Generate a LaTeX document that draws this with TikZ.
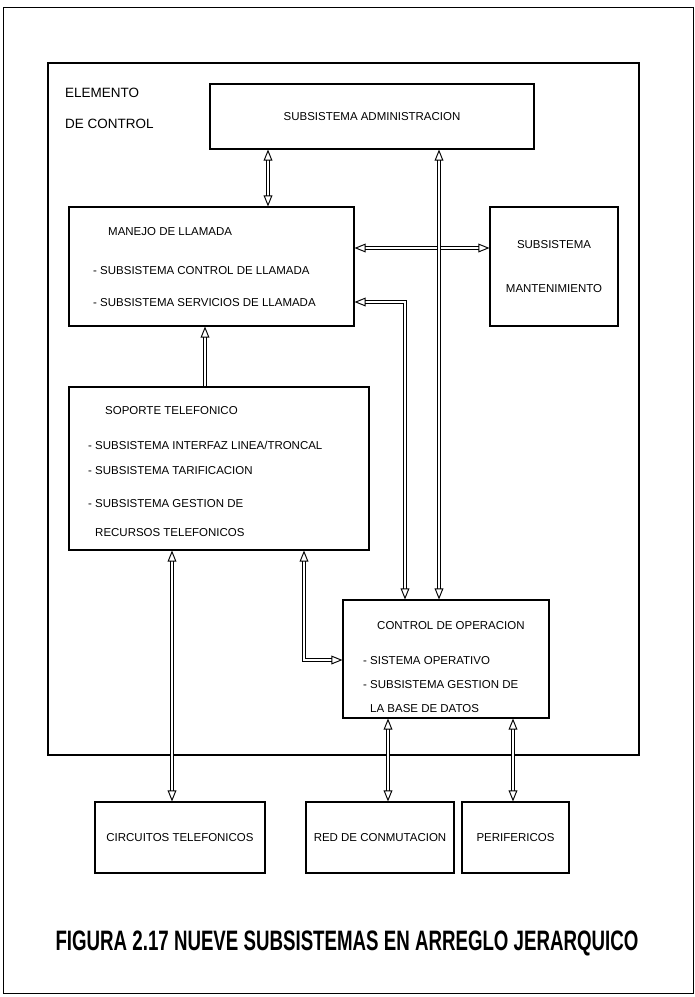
\documentclass[tikz,border=0pt]{standalone}
\usepackage{fontspec}
\setmainfont{Liberation Sans}
\usetikzlibrary{arrows.meta, positioning}

\begin{document}
\begin{tikzpicture}[x=0.03cm, y=-0.03cm,
    >={Triangle[open, length=9.5pt, width=7.5pt, line width=0.8pt]},
    bx/.style={draw, line width=0.9pt, inner sep=0pt, font=\fontsize{9.8}{11.8}\selectfont},
    txt/.style={anchor=base west, inner sep=0pt, font=\fontsize{9.8}{11.8}\selectfont},
    dlink/.style={double, double distance=1.6pt, line width=0.8pt}]

  \useasboundingbox (0,0) rectangle (695,997);
  \node[draw, line width=0.8pt, minimum width=20.7cm, minimum height=29.58cm] (page) at (348,500) {};

  % elemento de control
  \node[bx, minimum width=17.73cm, minimum height=20.76cm] (elem) at (343.5,409) {};
  \node[txt, font=\fontsize{11.5}{13}\selectfont] (elemA) at (65,97) {ELEMENTO};
  \node[txt, font=\fontsize{11.5}{13}\selectfont] (elemB) at (65,128) {DE CONTROL};

  \node[bx, minimum width=9.72cm, minimum height=1.95cm] (admin) at (372,116.5) {SUBSISTEMA ADMINISTRACION};

  \node[bx, minimum width=8.55cm, minimum height=3.57cm] (manejo) at (211.5,266.5) {};
  \node[txt] (manejoA) at (108,235) {MANEJO DE LLAMADA};
  \node[txt] (manejoB) at (93,274) {- SUBSISTEMA CONTROL DE LLAMADA};
  \node[txt] (manejoC) at (93,306) {- SUBSISTEMA SERVICIOS DE LLAMADA};

  \node[bx, minimum width=3.84cm, minimum height=3.57cm, align=center] (mant) at (554,266.5)
    {SUBSISTEMA\\[26pt]MANTENIMIENTO};

  \node[bx, minimum width=9cm, minimum height=4.89cm] (soporte) at (219,468.5) {};
  \node[txt] (soporteA) at (105,414) {SOPORTE TELEFONICO};
  \node[txt] (soporteB) at (88,449) {- SUBSISTEMA INTERFAZ LINEA/TRONCAL};
  \node[txt] (soporteC) at (88,474) {- SUBSISTEMA TARIFICACION};
  \node[txt] (soporteD) at (88,507) {- SUBSISTEMA GESTION DE};
  \node[txt] (soporteE) at (95,536) {RECURSOS TELEFONICOS};

  \node[bx, minimum width=6.18cm, minimum height=3.54cm] (control) at (446,659) {};
  \node[txt] (controlA) at (377,629) {CONTROL DE OPERACION};
  \node[txt] (controlB) at (363,664) {- SISTEMA OPERATIVO};
  \node[txt] (controlC) at (363,688) {- SUBSISTEMA GESTION DE};
  \node[txt] (controlD) at (370,712) {LA BASE DE DATOS};

  % fuera del elemento de control
  \node[bx, minimum width=5.1cm, minimum height=2.13cm] (circ) at (180,837.5) {CIRCUITOS TELEFONICOS};
  \node[bx, minimum width=4.44cm, minimum height=2.13cm] (red) at (380,837.5) {RED DE CONMUTACION};
  \node[bx, minimum width=3.21cm, minimum height=2.13cm] (perif) at (515.5,837.5) {PERIFERICOS};

  \node[anchor=base, inner sep=0pt, font=\fontsize{24}{24}\selectfont\bfseries] (caption) at (347,950)
    {\scalebox{0.665}[1]{FIGURA 2.17 NUEVE SUBSISTEMAS EN ARREGLO JERARQUICO}};

  % columnas y filas de los enlaces
  \coordinate (cA) at (268,0);
  \coordinate (cB) at (439,0);
  \coordinate (cC) at (405,0);
  \coordinate (cD) at (205,0);
  \coordinate (cE) at (172,0);
  \coordinate (cF) at (304,0);
  \coordinate (cG) at (388,0);
  \coordinate (cH) at (513,0);
  \coordinate (rM) at (0,248);
  \coordinate (rS) at (0,302);
  \coordinate (rC) at (0,660);

  \draw[dlink, <->] (admin.south -| cA) -- (manejo.north -| cA);
  \draw[dlink, <->] (manejo.east |- rM) -- (mant.west |- rM);
  \draw[dlink, <->] (admin.south -| cB) -- (control.north -| cB);
  \draw[dlink, ->] (soporte.north -| cD) -- (manejo.south -| cD);
  \draw[dlink, <->] (control.north -| cC) |- (manejo.east |- rS);
  \draw[dlink, <->] (soporte.south -| cE) -- (circ.north -| cE);
  \draw[dlink, <->] (soporte.south -| cF) |- (control.west |- rC);
  \draw[dlink, <->] (control.south -| cG) -- (red.north -| cG);
  \draw[dlink, <->] (control.south -| cH) -- (perif.north -| cH);
\end{tikzpicture}
\end{document}
